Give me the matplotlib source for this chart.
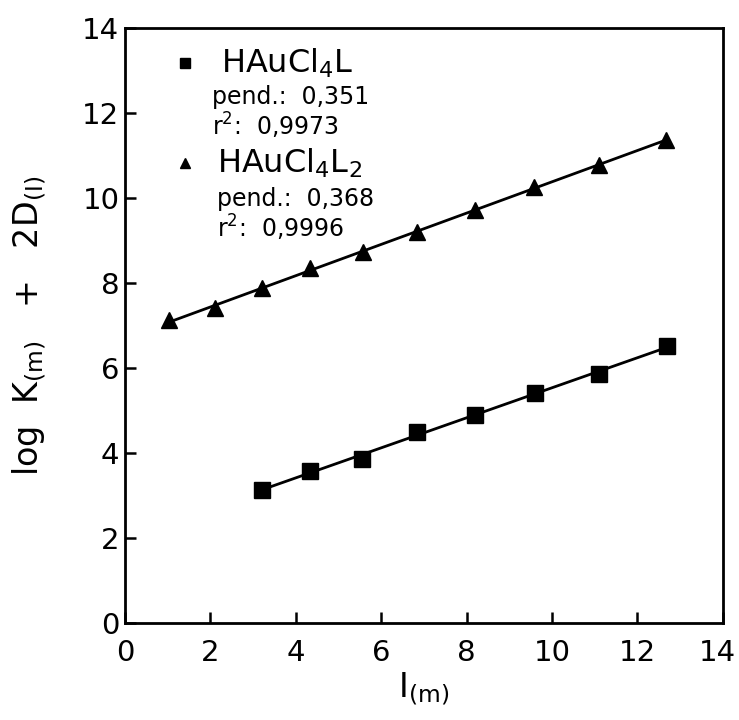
import numpy as np
import matplotlib
matplotlib.use("Agg")
import matplotlib.pyplot as plt
from matplotlib.transforms import ScaledTranslation

# data
x_l1 = [3.20, 4.34, 5.56, 6.85, 8.19, 9.61, 11.10, 12.69]
y_l1 = [3.13, 3.58, 3.85, 4.49, 4.89, 5.42, 5.85, 6.52]

x_l2 = [1.04, 2.11, 3.20, 4.34, 5.58, 6.85, 8.19, 9.59, 11.10, 12.67]
y_l2 = [7.12, 7.40, 7.88, 8.35, 8.74, 9.19, 9.72, 10.25, 10.78, 11.36]

ticks = [0, 2, 4, 6, 8, 10, 12, 14]

fig = plt.figure(figsize=(7.39, 7.20), dpi=100)
ax = fig.add_axes([0.169, 0.135, 0.809, 0.826])

# regression lines over the data range
for xs, ys in [(x_l1, y_l1), (x_l2, y_l2)]:
    b, a = np.polyfit(xs, ys, 1)
    xx = np.array([min(xs), max(xs)])
    ax.plot(xx, a + b * xx, color="black", lw=2, zorder=2)

ax.plot(x_l1, y_l1, ls="none", marker="s", ms=12, color="black", zorder=3)
ax.plot(x_l2, y_l2, ls="none", marker="^", ms=11, color="black", zorder=3)

ax.set_xlim(0, 14)
ax.set_ylim(0, 14)
ax.set_xticks(ticks)
ax.set_yticks(ticks)
ax.tick_params(direction="in", length=8, width=1.8, labelsize=21)
ax.tick_params(axis="x", pad=12)
ax.tick_params(axis="y", pad=4)
for s in ax.spines.values():
    s.set_linewidth(2)

# keep the last x tick label inside the figure
last = ax.get_xticklabels()[-1]
last.set_transform(last.get_transform() + ScaledTranslation(-4 / 72, 0, fig.dpi_scale_trans))

ax.set_xlabel(r"I$_{\rm (m)}$", fontsize=24, labelpad=2)
ax.set_ylabel(r"log  K$_{\rm (m)}$   +   2D$_{\rm (I)}$", fontsize=24)
ax.yaxis.set_label_coords(-0.128, 0.5)

# hand-made legend
ax.plot([1.40], [13.18], ls="none", marker="s", ms=7, color="black", clip_on=False)
ax.text(2.25, 13.18, r"HAuCl$_4$L", fontsize=23, va="center")
ax.text(2.05, 12.38, "pend.:  0,351", fontsize=17, va="center")
ax.text(2.05, 11.70, r"r$^2$:  0,9973", fontsize=17, va="center")
ax.plot([1.40], [10.82], ls="none", marker="^", ms=7, color="black", clip_on=False)
ax.text(2.15, 10.82, r"HAuCl$_4$L$_2$", fontsize=23, va="center")
ax.text(2.15, 9.98, "pend.:  0,368", fontsize=17, va="center")
ax.text(2.15, 9.30, r"r$^2$:  0,9996", fontsize=17, va="center")

fig.savefig("out.png", dpi=100)
